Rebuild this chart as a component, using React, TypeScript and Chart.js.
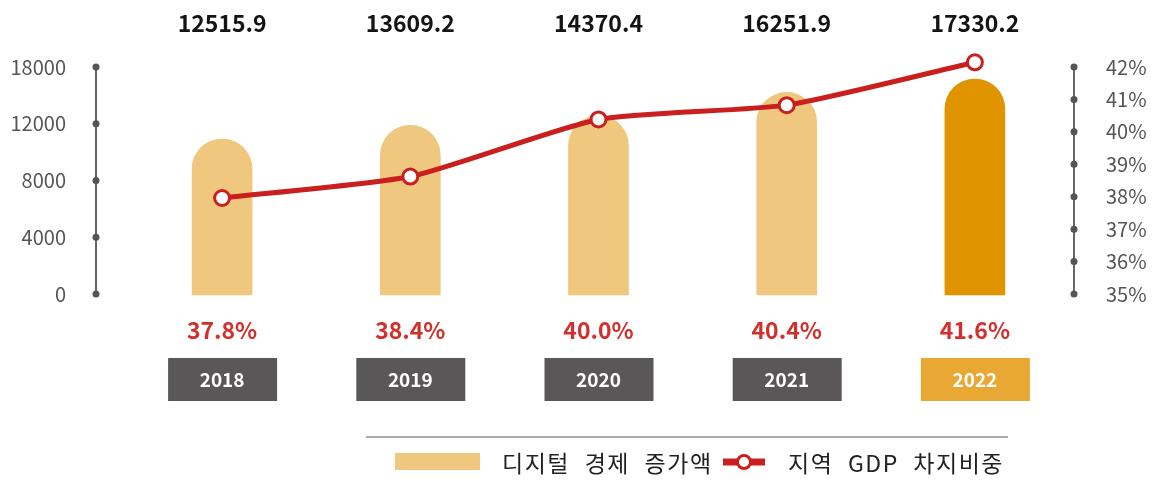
import React, { useEffect, useRef } from "react";
import { Chart, registerables } from "chart.js";

Chart.register(...registerables);

const categories = ["2018", "2019", "2020", "2021", "2022"];
const digitalEconomy = [12515.9, 13609.2, 14370.4, 16251.9, 17330.2];
const gdpShare = [37.8, 38.4, 40.0, 40.4, 41.6];
const leftTickLabels = ["0", "4000", "8000", "12000", "18000"];
const rightTickValues = [35, 36, 37, 38, 39, 40, 41, 42];
const legendLabels = ["디지털 경제 증가액", "지역 GDP 차지비중"];

const BAR_LIGHT = "#F0C77E";
const BAR_DARK = "#E09400";
const RED = "#C91F1F";
const TEXT_RED = "#D2302C";
const BOX_GRAY = "#595757";
const BOX_GOLD = "#E8A833";
const AXIS_GRAY = "#666666";
const FONT = "'Noto Sans CJK KR', 'Noto Sans', sans-serif";

const decorPlugin = {
  id: "decor",
  afterDraw(chart: any) {
    const ctx = chart.ctx;
    const xs = chart.scales.x;
    const yl = chart.scales.yLeft;
    const yr = chart.scales.yRight;
    ctx.save();

    // axis lines with dots
    const drawAxis = (scale: any, x: number) => {
      const ticks = scale.ticks;
      const top = scale.getPixelForValue(ticks[ticks.length - 1].value);
      const bottom = scale.getPixelForValue(ticks[0].value);
      ctx.strokeStyle = AXIS_GRAY;
      ctx.lineWidth = 2;
      ctx.beginPath();
      ctx.moveTo(x, top);
      ctx.lineTo(x, bottom);
      ctx.stroke();
      ctx.fillStyle = "#555555";
      ticks.forEach((t: any) => {
        ctx.beginPath();
        ctx.arc(x, scale.getPixelForValue(t.value), 3.5, 0, Math.PI * 2);
        ctx.fill();
      });
    };
    drawAxis(yl, yl.right - 32);
    drawAxis(yr, yr.left + 5);

    // value labels
    ctx.textAlign = "center";
    ctx.textBaseline = "middle";
    categories.forEach((c, i) => {
      const x = xs.getPixelForValue(i);
      ctx.font = `bold 23px ${FONT}`;
      ctx.fillStyle = "#141414";
      ctx.fillText(digitalEconomy[i].toFixed(1), x, 23);
      ctx.fillStyle = TEXT_RED;
      ctx.fillText(gdpShare[i].toFixed(1) + "%", x, 330);
      ctx.fillStyle = i === categories.length - 1 ? BOX_GOLD : BOX_GRAY;
      ctx.fillRect(x - 54, 358, 109, 43);
      ctx.fillStyle = "#ffffff";
      ctx.font = `bold 19px ${FONT}`;
      ctx.fillText(c, x, 380);
    });

    // legend
    ctx.strokeStyle = "#AAAAAA";
    ctx.lineWidth = 2;
    ctx.beginPath();
    ctx.moveTo(366, 437);
    ctx.lineTo(1008, 437);
    ctx.stroke();

    ctx.fillStyle = BAR_LIGHT;
    ctx.fillRect(395, 453, 85, 17);
    ctx.font = `23px ${FONT}`;
    (ctx as any).letterSpacing = "1.5px";
    (ctx as any).wordSpacing = "8px";
    ctx.fillStyle = "#222222";
    ctx.textAlign = "left";
    ctx.fillText(legendLabels[0], 502, 463);

    ctx.strokeStyle = RED;
    ctx.lineWidth = 7;
    ctx.beginPath();
    ctx.moveTo(723, 462);
    ctx.lineTo(765, 462);
    ctx.stroke();
    ctx.fillStyle = "#ffffff";
    ctx.lineWidth = 3;
    ctx.beginPath();
    ctx.arc(744, 462, 6.5, 0, Math.PI * 2);
    ctx.fill();
    ctx.stroke();

    ctx.fillStyle = "#222222";
    ctx.fillText(legendLabels[1], 788, 463);
    ctx.restore();
  },
};

export default function App() {
  const ref = useRef<HTMLCanvasElement | null>(null);

  useEffect(() => {
    document.body.style.margin = "0";
    const canvas = ref.current;
    if (!canvas) return;
    const chart = new Chart(canvas, {
      type: "bar",
      data: {
        labels: categories,
        datasets: [
          {
            type: "line",
            label: legendLabels[1],
            data: gdpShare,
            yAxisID: "yLine",
            borderColor: RED,
            borderWidth: 5,
            tension: 0.2,
            pointRadius: 7.5,
            pointBorderWidth: 3,
            pointBackgroundColor: "#ffffff",
            pointBorderColor: RED,
            order: 0,
          } as any,
          {
            type: "bar",
            label: legendLabels[0],
            data: digitalEconomy,
            yAxisID: "y",
            backgroundColor: categories.map((_, i) =>
              i === categories.length - 1 ? BAR_DARK : BAR_LIGHT
            ),
            barThickness: 60,
            borderRadius: { topLeft: 30, topRight: 30, bottomLeft: 0, bottomRight: 0 },
            borderSkipped: "bottom",
            order: 1,
          },
        ],
      },
      options: {
        responsive: false,
        animation: false,
        layout: { padding: { top: 48, bottom: 184, left: 0, right: 0 } },
        plugins: {
          legend: { display: false },
          tooltip: { enabled: false },
        },
        scales: {
          x: { type: "category", display: false, offset: true },
          y: { display: false, min: -241, max: 19817 },
          yLine: { display: false, min: 35, max: 42 },
          yLeft: {
            position: "left",
            min: -0.0705,
            max: 4.3348,
            grid: { display: false, drawTicks: false, tickLength: 0 },
            border: { display: false },
            afterBuildTicks: (scale: any) => {
              scale.ticks = leftTickLabels.map((_, i) => ({ value: i }));
            },
            afterFit: (scale: any) => {
              scale.width = 128;
              scale.paddingTop = 0;
              scale.paddingBottom = 0;
            },
            ticks: {
              padding: 62,
              color: "#555555",
              font: { family: FONT, size: 20 },
              callback: (v: any) => leftTickLabels[Math.round(Number(v))] ?? "",
            },
          },
          yRight: {
            position: "right",
            min: 34.877,
            max: 42.586,
            grid: { display: false, drawTicks: false, tickLength: 0 },
            border: { display: false },
            afterBuildTicks: (scale: any) => {
              scale.ticks = rightTickValues.map((v) => ({ value: v }));
            },
            afterFit: (scale: any) => {
              scale.width = 85;
              scale.paddingTop = 0;
              scale.paddingBottom = 0;
            },
            ticks: {
              padding: 37,
              color: "#555555",
              font: { family: FONT, size: 20 },
              callback: (v: any) => `${v}%`,
            },
          },
        },
      } as any,
      plugins: [decorPlugin],
    });
    return () => chart.destroy();
  }, []);

  return (
    <div style={{ width: 1154, height: 482 }}>
      <canvas ref={ref} width={1154} height={482} style={{ display: "block" }} />
    </div>
  );
}
